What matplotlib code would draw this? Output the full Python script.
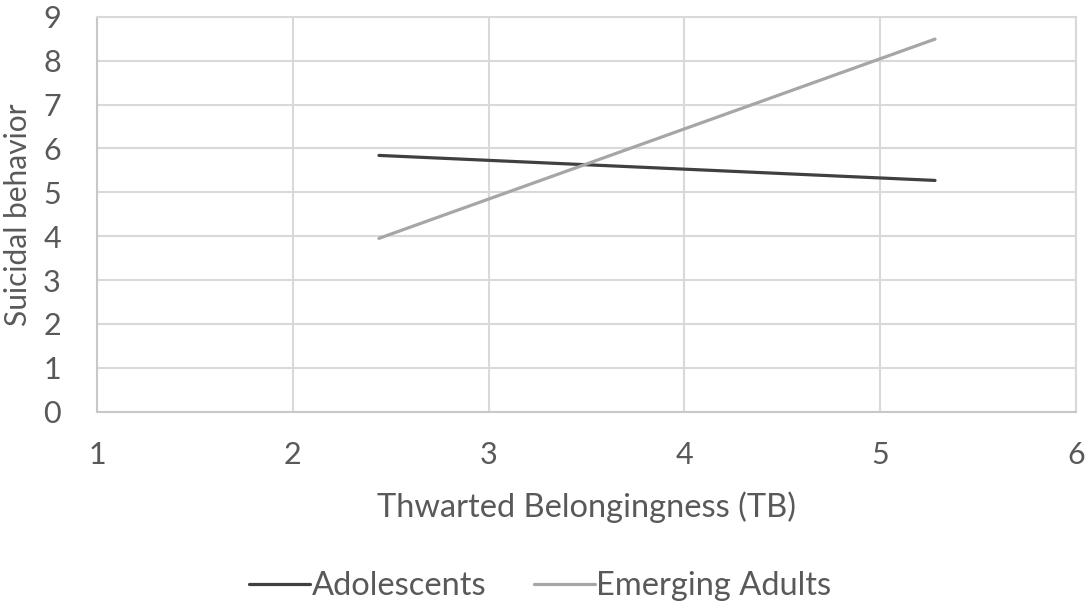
import numpy as np
import matplotlib
matplotlib.use('Agg')
import matplotlib.pyplot as plt

# values
tb_levels = [2.44, 5.28]
adolescents = [5.84, 5.27]
emerging_adults = [3.95, 8.49]
x_ticks = [1, 2, 3, 4, 5, 6]
y_ticks = [0, 1, 2, 3, 4, 5, 6, 7, 8, 9]

plt.rcParams['font.family'] = ['Lato', 'DejaVu Sans']
text_col = '#595959'
grid_col = '#d9d9d9'

fig = plt.figure(figsize=(10.85, 6.06), dpi=100)
ax = fig.add_axes([0.0894, 0.3206, 0.9023, 0.6518])

ax.plot(tb_levels, adolescents, color='#404040', lw=2.3, label='Adolescents', solid_capstyle='round')
ax.plot(tb_levels, emerging_adults, color='#a6a6a6', lw=2.3, label='Emerging Adults', solid_capstyle='round')

ax.set_xlim(1, 6)
ax.set_ylim(0, 9)
ax.set_xticks(x_ticks)
ax.set_yticks(y_ticks)
ax.grid(True, color=grid_col, lw=1.5)
ax.set_axisbelow(True)
for s in ax.spines.values():
    s.set_color(grid_col)
    s.set_linewidth(1.5)
ax.spines['left'].set_color('#c8c8c8')
ax.spines['bottom'].set_color('#c8c8c8')

ax.tick_params(axis='both', length=0, labelsize=22, labelcolor=text_col)
ax.tick_params(axis='x', pad=21)
ax.tick_params(axis='y', pad=26)

ax.set_xlabel('Thwarted Belongingness (TB)', fontsize=23.5, color=text_col, labelpad=16)
ax.set_ylabel('Suicidal behavior', fontsize=21.5, color=text_col, labelpad=8)

fig.legend(loc='center', bbox_to_anchor=(0.498, 1 - 586 / 606), ncol=2, frameon=False,
           fontsize=23.5, labelcolor=text_col, handlelength=1.87, handletextpad=0.05,
           columnspacing=1.44)

fig.savefig('out.png', dpi=100, facecolor='white')
